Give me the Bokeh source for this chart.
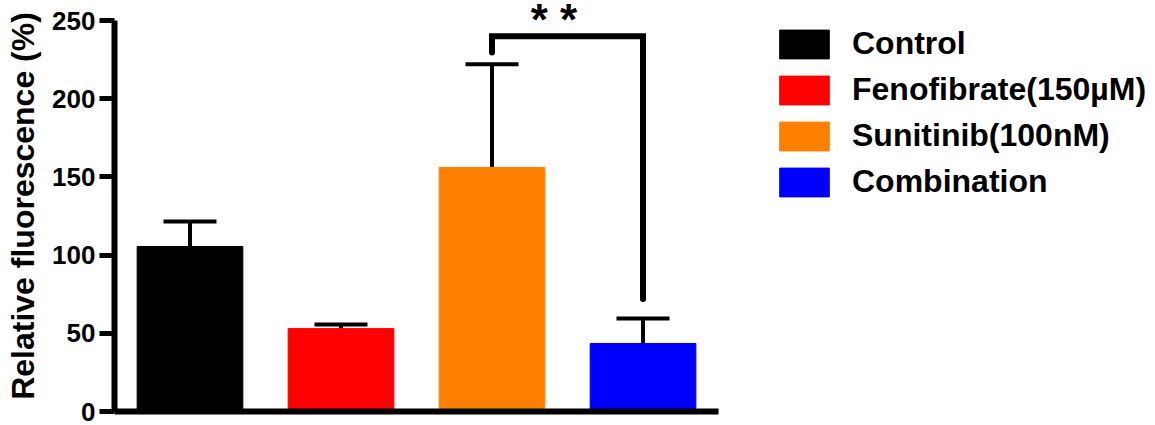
from bokeh.plotting import figure
from bokeh.models import ColumnDataSource, Whisker, TeeHead, FixedTicker, Range1d
from bokeh.core.properties import value
from bokeh.embed import file_html
from bokeh.resources import INLINE

# ---- data ----
groups = ["Control", "Fenofibrate(150µM)", "Sunitinib(100nM)", "Combination"]
x_pos = [1, 2, 3, 4]
means = [105.5, 53.0, 156.0, 43.5]
errors = [16.0, 2.6, 66.0, 16.0]
colors = ["#000000", "#FF0000", "#FF8000", "#0000FF"]
y_ticks = [0, 50, 100, 150, 200, 250]
sig_x = [3, 3, 4, 4]
sig_y = [229.5, 240, 240, 72]
sig_text = ["* *"]
sig_text_x = [3.41]
sig_text_y = [250.5]

FONT = value("Liberation Sans")

upper = [m + e for m, e in zip(means, errors)]
src = ColumnDataSource(dict(x=x_pos, top=means, upper=upper, color=colors, group=groups))

p = figure(width=1152, height=425,
           x_range=Range1d(0.5, 7.374), y_range=Range1d(0, 262.8),
           output_backend="svg", toolbar_location=None,
           min_border_left=114, min_border_right=0, min_border_top=0, min_border_bottom=14)
p.outline_line_color = None
p.xgrid.visible = False
p.ygrid.visible = False
p.background_fill_color = "white"

p.vbar(x="x", top="top", width=0.70, fill_color="color", line_color="color",
       source=src, legend_field="group")

wh = Whisker(base="x", lower="top", upper="upper", source=src,
             line_width=4, line_color="black",
             upper_head=TeeHead(size=53, line_width=4, line_color="black"),
             lower_head=None)
p.add_layout(wh)

p.line(sig_x, sig_y, line_width=6, line_color="black", line_join="miter", line_cap="round")
p.text(x=sig_text_x, y=sig_text_y, text=sig_text, text_font=FONT, text_font_style="bold",
       text_font_size="44px", text_align="center", text_baseline="alphabetic", text_color="black")

# y axis
ya = p.yaxis[0]
ya.ticker = FixedTicker(ticks=y_ticks)
ya.bounds = (-2, 250)
ya.axis_line_width = 6
ya.major_tick_line_width = 5
ya.major_tick_out = 15
ya.major_tick_in = 0
ya.minor_tick_line_color = None
ya.major_label_text_font = "Liberation Sans"
ya.major_label_text_font_style = "bold"
ya.major_label_text_font_size = "26px"
ya.major_label_text_color = "black"
ya.major_label_standoff = 4
ya.axis_label = "Relative fluorescence (%)"
ya.axis_label_text_font = "Liberation Sans"
ya.axis_label_text_font_style = "bold"
ya.axis_label_text_font_size = "32px"
ya.axis_label_text_color = "black"
ya.axis_label_standoff = 8

# x axis
xa = p.xaxis[0]
xa.ticker = FixedTicker(ticks=[])
xa.bounds = (0.48, 4.5)
xa.axis_line_width = 6
xa.major_tick_line_color = None
xa.minor_tick_line_color = None
xa.major_label_text_font_size = "0px"

lg = p.legend[0]
lg.location = (659, 211)
lg.label_text_font = "Liberation Sans"
lg.label_text_font_style = "bold"
lg.label_text_font_size = "32px"
lg.label_text_color = "black"
lg.glyph_width = 62
lg.glyph_height = 36
lg.label_standoff = 17
lg.spacing = 9
lg.padding = 0
lg.margin = 0
lg.border_line_color = None
lg.background_fill_alpha = 0

open("out.html", "w").write(file_html(p, INLINE))
